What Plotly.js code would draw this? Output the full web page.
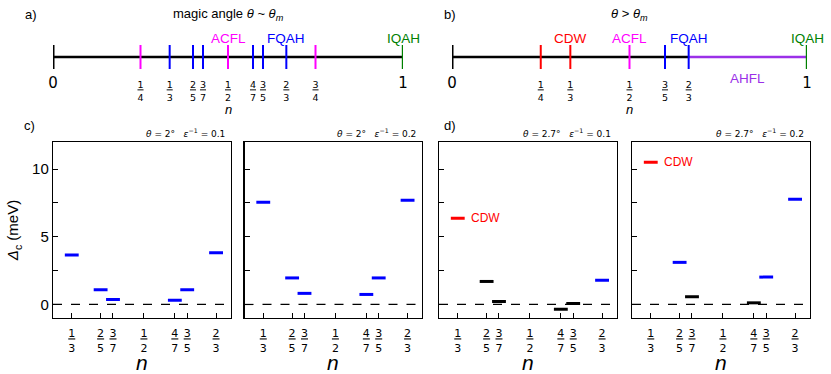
<!DOCTYPE html>
<html>
<head>
<meta charset="utf-8">
<script src="https://cdn.plot.ly/plotly-3.0.1.min.js"></script>
<style>
  html, body { margin: 0; padding: 0; background: #fff; }
  #plot { width: 831px; height: 374px; }
</style>
</head>
<body>
<div id="plot"></div>
<script>
// Top number lines
const topA_num = [1, 1, 2, 3, 1, 4, 3, 2, 3];
const topA_den = [4, 3, 5, 7, 2, 7, 5, 3, 4];
const topA_col = ["magenta", "blue", "blue", "blue", "magenta", "blue", "blue", "blue", "magenta"];
const topB_num = [1, 1, 1, 3, 2];
const topB_den = [4, 3, 2, 5, 3];
const topB_col = ["red", "red", "magenta", "blue", "blue"];

// Gap panels
const nNum = [1, 2, 3, 4, 3, 2];
const nDen = [3, 5, 7, 7, 5, 3];
const tickNum = [1, 2, 3, 1, 4, 3, 2];
const tickDen = [3, 5, 7, 2, 7, 5, 3];

const gapC = [3.65, 1.08, 0.37, 0.32, 1.08, 3.82];
const gapE = [7.55, 1.96, 0.82, 0.74, 1.96, 7.70];
const gapD = [6.37, 1.70, 0.22, -0.35, 0.07, 1.78];
const gapF = [10.5, 3.11, 0.57, 0.12, 2.02, 7.78];
const colC = ["blue", "blue", "blue", "blue", "blue", "blue"];
const colE = ["blue", "blue", "blue", "blue", "blue", "blue"];
const colD = ["red", "black", "black", "black", "black", "blue"];
const colF = ["red", "blue", "black", "black", "blue", "blue"];
const panelTitles = [
  "<i>θ</i> = 2°   <i>ε</i><sup>−1</sup> = 0.1",
  "<i>θ</i> = 2°   <i>ε</i><sup>−1</sup> = 0.2",
  "<i>θ</i> = 2.7°   <i>ε</i><sup>−1</sup> = 0.1",
  "<i>θ</i> = 2.7°   <i>ε</i><sup>−1</sup> = 0.2",
];

const W = 831, H = 374;
const px = (x) => x / W;
const py = (y) => 1 - y / H;
const FONT = "Liberation Sans, Arial, sans-serif";

const frac = (a, b) =>
  `<span style="text-decoration:underline">${a}</span><br>${b}`;

const traces = [];
const annotations = [];
const shapes = [];
const layout = {
  width: W,
  height: H,
  margin: { l: 0, r: 0, t: 0, b: 0 },
  showlegend: false,
  plot_bgcolor: "rgba(0,0,0,0)",
  paper_bgcolor: "#ffffff",
  font: { family: FONT, color: "black" },
};

// ---- number lines a) and b) ----
function numberLine(ax, x0, x1, nums, dens, cols, purpleFrom) {
  const xa = "x" + ax, ya = "y" + ax;
  const vals = nums.map((a, i) => a / dens[i]);
  // main line
  if (purpleFrom) {
    traces.push({ x: [0, purpleFrom], y: [0, 0], xaxis: xa, yaxis: ya, mode: "lines",
      line: { color: "black", width: 2.6 }, hoverinfo: "skip" });
    traces.push({ x: [purpleFrom, 1], y: [0, 0], xaxis: xa, yaxis: ya, mode: "lines",
      line: { color: "#9b30e8", width: 2.6 }, hoverinfo: "skip" });
  } else {
    traces.push({ x: [0, 1], y: [0, 0], xaxis: xa, yaxis: ya, mode: "lines",
      line: { color: "black", width: 2.6 }, hoverinfo: "skip" });
  }
  // end marks
  traces.push({ x: [0, 0], y: [-1, 1], xaxis: xa, yaxis: ya, mode: "lines",
    line: { color: "black", width: 3 }, hoverinfo: "skip" });
  traces.push({ x: [1, 1], y: [-1, 1], xaxis: xa, yaxis: ya, mode: "lines",
    line: { color: "green", width: 2.4 }, hoverinfo: "skip" });
  // fractional marks
  vals.forEach((v, i) => {
    traces.push({ x: [v, v], y: [-1, 1], xaxis: xa, yaxis: ya, mode: "lines",
      line: { color: cols[i], width: 2 }, hoverinfo: "skip" });
  });
  const tv = [0].concat(vals, [1]);
  const tt = ['<span style="font-size:15px">0</span>']
    .concat(nums.map((a, i) => frac(a, dens[i])), ['<span style="font-size:15px">1</span>']);
  layout["xaxis" + ax] = {
    domain: [px(x0), px(x1)], anchor: ya, range: [0, 1],
    showline: false, showgrid: false, zeroline: false,
    ticks: "outside", ticklen: 7, tickcolor: "rgba(0,0,0,0)",
    tickvals: tv, ticktext: tt, tickangle: 0,
    tickfont: { size: 9.5, family: "DejaVu Sans" },
  };
  layout["yaxis" + ax] = {
    domain: [py(69), py(45)], anchor: xa, range: [-1, 1],
    visible: false,
  };
  annotations.push({ xref: xa, yref: "paper", x: 0.5, y: py(109), xanchor: "center",
    yanchor: "middle", text: "<i>n</i>", showarrow: false, font: { size: 13 } });
}

numberLine(5, 53, 403, topA_num, topA_den, topA_col, null);
numberLine(6, 452, 807, topB_num, topB_den, topB_col, 2 / 3);

function lineLabel(ax, x, text, color, below) {
  annotations.push({
    xref: "x" + ax, yref: "y" + ax, x: x, y: below ? -1 : 1,
    yanchor: below ? "top" : "bottom", xanchor: "center",
    text: text, showarrow: false, font: { size: 13.5, color: color },
    yshift: below ? 0 : -3,
  });
}
lineLabel(5, 1 / 2, "ACFL", "magenta");
lineLabel(5, 2 / 3, "FQAH", "blue");
lineLabel(5, 1, "IQAH", "green");
lineLabel(6, 1 / 3, "CDW", "red");
lineLabel(6, 1 / 2, "ACFL", "magenta");
lineLabel(6, 2 / 3, "FQAH", "blue");
lineLabel(6, 1, "IQAH", "green");
lineLabel(6, 5 / 6, "AHFL", "#9b30e8", true);

// titles and letters
const plain = (x, y, text, size, anchor) => annotations.push({
  xref: "paper", yref: "paper", x: px(x), y: py(y), xanchor: anchor || "center",
  yanchor: "middle", text: text, showarrow: false, font: { size: size },
});
plain(228, 14, "magic angle <i>θ</i> ~ <i>θ<sub>m</sub></i>", 13);
plain(629, 14, "<i>θ</i> > <i>θ<sub>m</sub></i>", 13);
plain(23, 14, "a)", 13, "left");
plain(442, 14, "b)", 13, "left");
plain(22, 125, "c)", 13, "left");
plain(442, 125, "d)", 13, "left");

// ---- gap panels ----
const panels = [
  { ax: "", left: 53, gaps: gapC, cols: colC },
  { ax: "2", left: 244.5, gaps: gapE, cols: colE },
  { ax: "3", left: 439, gaps: gapD, cols: colD },
  { ax: "4", left: 632, gaps: gapF, cols: colF },
];
const PW = 177.5;
const half = 0.016;

panels.forEach((p, k) => {
  const xa = "x" + p.ax, ya = "y" + p.ax;
  const byColor = {};
  p.gaps.forEach((g, i) => {
    const n = nNum[i] / nDen[i];
    const c = p.cols[i];
    if (!byColor[c]) byColor[c] = { x: [], y: [] };
    byColor[c].x.push(n - half, n + half, null);
    byColor[c].y.push(g, g, null);
  });
  Object.keys(byColor).forEach((c) => {
    traces.push({ x: byColor[c].x, y: byColor[c].y, xaxis: xa, yaxis: ya,
      mode: "lines", line: { color: c, width: 3 }, hoverinfo: "skip" });
  });
  // CDW label next to red bar
  p.gaps.forEach((g, i) => {
    if (p.cols[i] === "red") {
      annotations.push({ xref: xa, yref: ya, x: nNum[i] / nDen[i] + half, y: g,
        xanchor: "left", yanchor: "middle", xshift: 4, text: "CDW",
        showarrow: false, font: { size: 12, color: "red" } });
    }
  });
  shapes.push({ type: "line", xref: xa + " domain", yref: ya, x0: 0, x1: 1, y0: 0, y1: 0,
    line: { color: "black", width: 1.2, dash: "dash" } });

  layout["xaxis" + p.ax] = {
    domain: [px(p.left), px(p.left + PW)], anchor: ya, range: [0.29, 0.70],
    showline: true, mirror: true, linecolor: "black", linewidth: 1.2,
    showgrid: false, zeroline: false, ticks: "inside", ticklen: 5, tickcolor: "black",
    tickvals: tickNum.map((a, i) => a / tickDen[i]),
    ticktext: tickNum.map((a, i) => frac(a, tickDen[i])), tickangle: 0,
    ticklabelstandoff: 5,
    tickfont: { size: 11, family: "DejaVu Sans" },
  };
  annotations.push({ xref: "paper", yref: "paper", x: px(p.left + PW / 2), y: py(362),
    xanchor: "center", yanchor: "middle", text: "<i>n</i>", showarrow: false,
    font: { size: 21 } });
  const yax = {
    domain: [py(318), py(142)], anchor: xa, range: [-1, 12],
    showline: true, mirror: true, linecolor: "black", linewidth: 1.2,
    showgrid: false, zeroline: false, ticks: "inside", ticklen: 5, tickcolor: "black",
    tickmode: "linear", tick0: 0, dtick: 5,
    minor: { tickmode: "linear", tick0: 0, dtick: 2.5, ticks: "inside", ticklen: 5, tickcolor: "black", showgrid: false },
    tickfont: { size: 15 },
  };
  if (k === 0) {
    yax.title = { text: "<i>Δ</i><sub>c</sub> (meV)", font: { size: 15 }, standoff: 9 };
  } else {
    yax.showticklabels = false;
  }
  layout["yaxis" + p.ax] = yax;
  annotations.push({ xref: "paper", yref: "paper", x: px(p.left + PW - 4), y: py(133),
    xanchor: "right", yanchor: "middle", text: panelTitles[k], showarrow: false,
    font: { size: 9, family: "DejaVu Sans" } });
});

layout.annotations = annotations;
layout.shapes = shapes;

Plotly.newPlot("plot", traces, layout, { displayModeBar: false, staticPlot: true });
</script>
</body>
</html>
